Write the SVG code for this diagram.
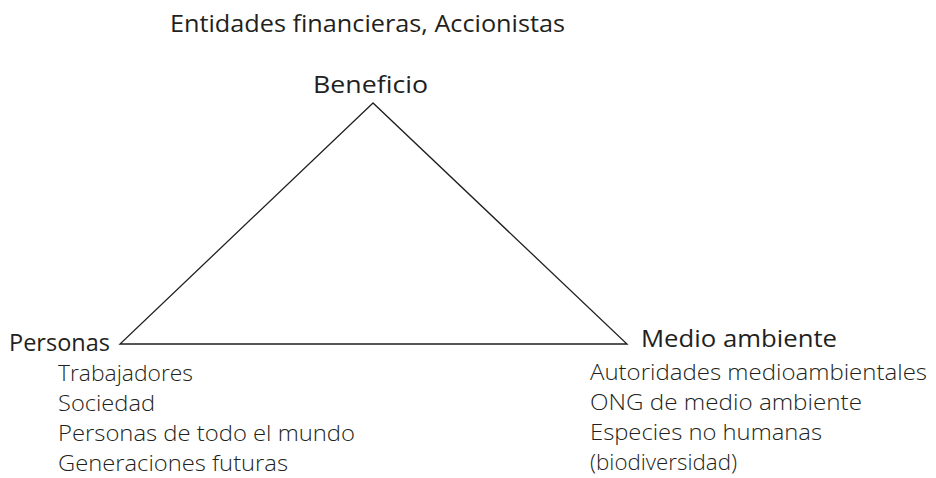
<svg xmlns="http://www.w3.org/2000/svg" width="936" height="478" viewBox="0 0 936 478">
<style>
text{font-family:"Open Sans","Noto Sans",sans-serif;fill:#231f20}
.h{font-size:24px}
.s{font-size:22.5px;font-weight:300;fill:#231f20}
.edge{fill:none;stroke:#231f20;stroke-width:1.3}
</style>
<rect width="936" height="478" fill="#fff"/>
<g id="connectors">
<path class="edge" d="M373,103 L120,344 L627,344 Z"/>
</g>
<g id="top"><text class="h" x="170" y="32" textLength="395" lengthAdjust="spacingAndGlyphs">Entidades financieras, Accionistas</text></g>
<g id="beneficio"><text class="h" x="313" y="93" textLength="115" lengthAdjust="spacingAndGlyphs">Beneficio</text></g>
<g id="personas">
<text class="h" x="9" y="351" textLength="101" lengthAdjust="spacingAndGlyphs">Personas</text>
<text class="s" x="58" y="381" textLength="135" lengthAdjust="spacingAndGlyphs">Trabajadores</text>
<text class="s" x="58" y="411" textLength="97" lengthAdjust="spacingAndGlyphs">Sociedad</text>
<text class="s" x="58" y="441" textLength="297" lengthAdjust="spacingAndGlyphs">Personas de todo el mundo</text>
<text class="s" x="58" y="471" textLength="230" lengthAdjust="spacingAndGlyphs">Generaciones futuras</text>
</g>
<g id="medio">
<text class="h" x="641" y="347" textLength="196" lengthAdjust="spacingAndGlyphs">Medio ambiente</text>
<text class="s" x="590" y="380" textLength="337" lengthAdjust="spacingAndGlyphs">Autoridades medioambientales</text>
<text class="s" x="590" y="410" textLength="272" lengthAdjust="spacingAndGlyphs">ONG de medio ambiente</text>
<text class="s" x="590" y="440" textLength="232" lengthAdjust="spacingAndGlyphs">Especies no humanas</text>
<text class="s" x="590" y="470" textLength="147" lengthAdjust="spacingAndGlyphs">(biodiversidad)</text>
</g>
</svg>
